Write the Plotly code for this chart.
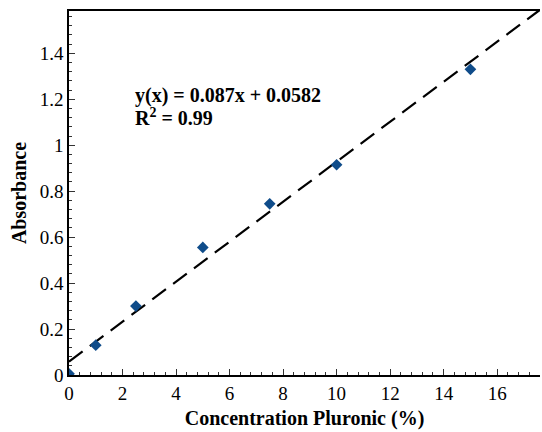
import plotly.graph_objects as go

conc = [0, 1, 2.5, 5, 7.5, 10, 15]
absorb = [0.005, 0.13, 0.30, 0.555, 0.745, 0.915, 1.33]
slope = 0.087
intercept = 0.0582
fit_x = [0, 17.6]
fit_y = [slope * x + intercept for x in fit_x]
x_ticks = [0, 2, 4, 6, 8, 10, 12, 14, 16]
y_ticks = [0, 0.2, 0.4, 0.6, 0.8, 1.0, 1.2, 1.4]
y_tick_labels = ["0", "0.2", "0.4", "0.6", "0.8", "1", "1.2", "1.4"]

font = "Liberation Serif"

fig = go.Figure()
fig.add_trace(go.Scatter(x=fit_x, y=fit_y, mode="lines",
                         line=dict(color="black", width=2.2, dash="17px,9px"),
                         showlegend=False, hoverinfo="skip"))
fig.add_trace(go.Scatter(x=conc, y=absorb, mode="markers",
                         marker=dict(symbol="diamond", size=9, color="#0F4C8A"),
                         showlegend=False))

fig.add_annotation(x=2.4, y=1.218, xref="x", yref="y", xanchor="left", yanchor="middle",
                   text="<b>y(x) = 0.087x + 0.0582</b>", showarrow=False,
                   font=dict(family=font, size=20, color="black"))
fig.add_annotation(x=2.4, y=1.123, xref="x", yref="y", xanchor="left", yanchor="middle",
                   text="<b>R<sup>2</sup> = 0.99</b>", showarrow=False,
                   font=dict(family=font, size=20, color="black"))

fig.update_layout(
    width=542, height=432,
    margin=dict(l=69, r=2, t=11, b=57),
    plot_bgcolor="white", paper_bgcolor="white",
    font=dict(family=font, size=19, color="black"),
    xaxis=dict(range=[0, 17.6], tickvals=x_ticks, ticks="inside", ticklen=6,
               tickcolor="#333", showgrid=False, zeroline=False,
               tickfont=dict(family=font, size=19),
               showline=True, linecolor="black", linewidth=1.5, mirror=True,
               minor=dict(dtick=0.4, ticks="inside", ticklen=3, tickcolor="#333"),
               title=dict(text="<b>Concentration Pluronic (%)</b>", standoff=8,
                          font=dict(family=font, size=20))),
    yaxis=dict(range=[0, 1.584], tickvals=y_ticks, ticktext=y_tick_labels,
               ticks="inside", ticklen=6, tickcolor="#333",
               tickfont=dict(family=font, size=19),
               showgrid=False, zeroline=False,
               showline=True, linecolor="black", linewidth=1.5,
               minor=dict(dtick=0.04, ticks="inside", ticklen=3, tickcolor="#333"),
               title=dict(text="<b>Absorbance</b>", standoff=8,
                          font=dict(family=font, size=20))),
)

fig.write_html("out.html")
